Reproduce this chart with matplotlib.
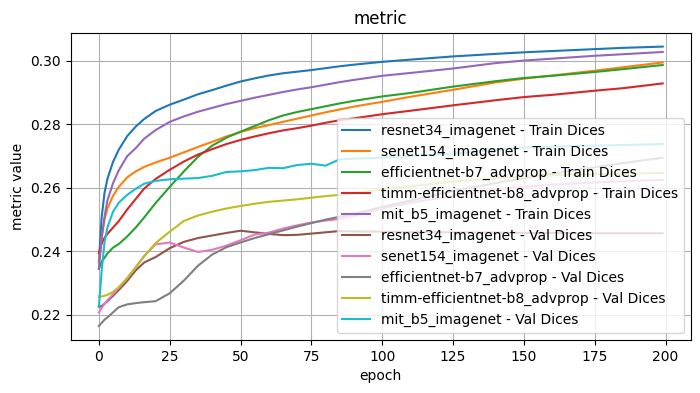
import matplotlib.pyplot as plt

epochs = [0, 1, 2, 3, 5, 7, 10, 13, 16, 20, 25, 30, 35, 40, 45, 50, 55, 60, 65,
          70, 75, 80, 85, 90, 100, 110, 125, 140, 150, 160, 175, 185, 199]

#Train dices
resnet34_train = [0.2370, 0.2510, 0.2585, 0.2628, 0.2682, 0.2720, 0.2763, 0.2793, 0.2817,
                  0.2842, 0.2862, 0.2878, 0.2895, 0.2908, 0.2922, 0.2935, 0.2945, 0.2954,
                  0.2961, 0.2966, 0.2971, 0.2977, 0.2983, 0.2988, 0.2997, 0.3004, 0.3014,
                  0.3022, 0.3027, 0.3031, 0.3037, 0.3041, 0.3045]
senet154_train = [0.2365, 0.2445, 0.2500, 0.2535, 0.2575, 0.2603, 0.2633, 0.2652, 0.2666,
                  0.2680, 0.2695, 0.2712, 0.2729, 0.2745, 0.2762, 0.2776, 0.2788, 0.2798,
                  0.2808, 0.2818, 0.2828, 0.2838, 0.2847, 0.2856, 0.2871, 0.2887, 0.2909,
                  0.2932, 0.2944, 0.2954, 0.2969, 0.2980, 0.2995]
effb7_train = [0.2345, 0.2368, 0.2380, 0.2393, 0.2412, 0.2423, 0.2447, 0.2475, 0.2507,
               0.2552, 0.2603, 0.2652, 0.2698, 0.2733, 0.2758, 0.2777, 0.2795, 0.2813,
               0.2828, 0.2839, 0.2848, 0.2857, 0.2866, 0.2874, 0.2888, 0.2899, 0.2919,
               0.2936, 0.2946, 0.2953, 0.2965, 0.2974, 0.2987]
timm_b8_train = [0.2395, 0.2425, 0.2443, 0.2455, 0.2475, 0.2495, 0.2532, 0.2565, 0.2598,
                 0.2628, 0.2657, 0.2683, 0.2705, 0.2722, 0.2738, 0.2751, 0.2762, 0.2772,
                 0.2781, 0.2788, 0.2796, 0.2805, 0.2813, 0.2819, 0.2832, 0.2843, 0.2860,
                 0.2876, 0.2886, 0.2893, 0.2906, 0.2914, 0.2929]
mit_b5_train = [0.2345, 0.2445, 0.2510, 0.2560, 0.2615, 0.2655, 0.2700, 0.2725, 0.2755,
                0.2782, 0.2808, 0.2825, 0.2840, 0.2852, 0.2864, 0.2874, 0.2884, 0.2893,
                0.2902, 0.2910, 0.2917, 0.2925, 0.2933, 0.2940, 0.2953, 0.2962, 0.2976,
                0.2993, 0.3001, 0.3007, 0.3016, 0.3021, 0.3028]

#Val dices
resnet34_val = [0.2225, 0.2228, 0.2235, 0.2243, 0.2260, 0.2278, 0.2307, 0.2340, 0.2365,
                0.2382, 0.2410, 0.2430, 0.2442, 0.2450, 0.2458, 0.2465, 0.2460, 0.2455,
                0.2451, 0.2452, 0.2456, 0.2460, 0.2464, 0.2463, 0.2462, 0.2461, 0.2460,
                0.2459, 0.2458, 0.2458, 0.2457, 0.2457, 0.2457]
senet154_val = [0.2207, 0.2222, 0.2235, 0.2246, 0.2265, 0.2285, 0.2315, 0.2350, 0.2385,
                0.2422, 0.2428, 0.2412, 0.2398, 0.2405, 0.2418, 0.2435, 0.2453, 0.2459,
                0.2472, 0.2482, 0.2491, 0.2497, 0.2502, 0.2512, 0.2535, 0.2553, 0.2575,
                0.2595, 0.2603, 0.2610, 0.2617, 0.2621, 0.2625]
effb7_val = [0.2165, 0.2175, 0.2185, 0.2192, 0.2208, 0.2224, 0.2233, 0.2237, 0.2240,
             0.2243, 0.2268, 0.2308, 0.2355, 0.2390, 0.2413, 0.2428, 0.2442, 0.2454,
             0.2466, 0.2478, 0.2489, 0.2500, 0.2509, 0.2518, 0.2540, 0.2560, 0.2590,
             0.2615, 0.2630, 0.2645, 0.2665, 0.2678, 0.2695]
timm_b8_val = [0.2258, 0.2258, 0.2260, 0.2263, 0.2272, 0.2287, 0.2316, 0.2350, 0.2385,
               0.2426, 0.2462, 0.2496, 0.2513, 0.2525, 0.2535, 0.2543, 0.2550, 0.2556,
               0.2560, 0.2564, 0.2569, 0.2574, 0.2578, 0.2583, 0.2595, 0.2605, 0.2620,
               0.2631, 0.2636, 0.2640, 0.2643, 0.2645, 0.2647]
mit_b5_val = [0.2225, 0.2340, 0.2430, 0.2475, 0.2525, 0.2553, 0.2578, 0.2597, 0.2613,
              0.2622, 0.2627, 0.2629, 0.2631, 0.2638, 0.2650, 0.2652, 0.2656, 0.2663,
              0.2662, 0.2672, 0.2676, 0.2670, 0.2690, 0.2692, 0.2695, 0.2700, 0.2708,
              0.2720, 0.2727, 0.2730, 0.2733, 0.2735, 0.2738]

models = ['resnet34_imagenet', 'senet154_imagenet', 'efficientnet-b7_advprop',
          'timm-efficientnet-b8_advprop', 'mit_b5_imagenet']
train = [resnet34_train, senet154_train, effb7_train, timm_b8_train, mit_b5_train]
val = [resnet34_val, senet154_val, effb7_val, timm_b8_val, mit_b5_val]

fig, ax = plt.subplots(figsize=(7, 3.93), dpi=100)
plt.subplots_adjust(left=0.101, right=0.987, top=0.917, bottom=0.135)

for name, vals in zip(models, train):
    ax.plot(epochs, vals, label=name + ' - Train Dices')
for name, vals in zip(models, val):
    ax.plot(epochs, vals, label=name + ' - Val Dices')

ax.set_title('metric')
ax.set_xlabel('epoch')
ax.set_ylabel('metric value')
ax.grid()
ax.legend(loc='lower right')

fig.savefig('out.png')
